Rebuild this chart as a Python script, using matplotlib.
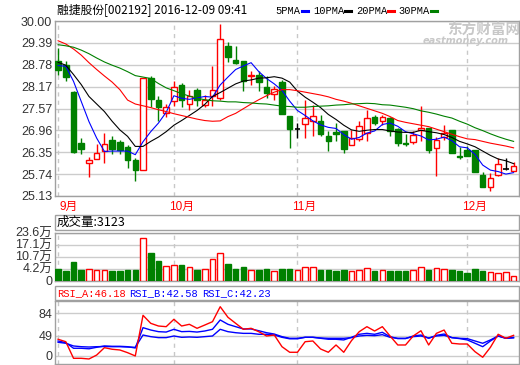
import numpy as np
import matplotlib.pyplot as plt
from matplotlib.patches import Rectangle
from matplotlib.lines import Line2D

W, H = 520, 365

opens = [28.90, 28.78, 28.03, 26.61, 26.05, 26.16, 26.39, 26.70, 26.64, 26.49,
         26.12, 25.84, 28.40, 27.81, 27.44, 27.78, 28.23, 27.70, 28.09, 27.67,
         27.90, 27.87, 29.30, 28.91, 28.88, 28.46, 28.51, 28.15, 27.97, 28.29,
         27.35, 27.00, 27.13, 27.21, 27.23, 26.79, 26.91, 26.93, 26.56, 26.72,
         26.88, 27.33, 27.23, 27.30, 26.99, 26.61, 26.62, 26.97, 27.02, 26.47,
         26.77, 26.97, 26.24, 26.42, 26.42, 25.72, 25.37, 25.72, 25.88, 25.83]
highs = [29.26, 28.88, 28.05, 26.74, 26.21, 26.58, 26.88, 26.81, 26.70, 26.56,
         26.19, 28.40, 28.48, 27.90, 27.70, 28.32, 28.28, 28.07, 28.14, 27.95,
         28.74, 29.92, 29.41, 29.31, 28.88, 28.60, 28.62, 28.46, 28.20, 28.37,
         27.37, 27.16, 27.81, 27.65, 27.39, 26.93, 27.16, 26.93, 26.97, 27.21,
         27.53, 27.38, 27.39, 27.33, 27.02, 26.86, 26.95, 27.63, 27.02, 26.77,
         27.11, 26.97, 26.49, 26.53, 26.42, 25.81, 25.77, 26.19, 26.19, 26.08]
lows = [28.51, 28.32, 26.33, 26.30, 25.66, 26.16, 26.06, 26.31, 26.30, 25.91,
        25.55, 25.84, 27.61, 27.23, 27.33, 27.64, 27.62, 27.53, 27.64, 27.62,
        27.64, 27.81, 28.86, 28.79, 28.04, 28.21, 28.06, 27.86, 27.81, 27.42,
        26.47, 26.74, 26.74, 26.79, 26.79, 26.39, 26.67, 26.33, 26.56, 26.67,
        26.65, 27.10, 27.11, 26.79, 26.53, 26.53, 26.57, 26.65, 26.34, 25.69,
        26.70, 26.34, 26.16, 26.23, 25.81, 25.37, 25.28, 25.69, 25.86, 25.83]
closes = [28.65, 28.44, 26.35, 26.43, 26.14, 26.33, 26.58, 26.44, 26.42, 26.12,
          25.84, 28.40, 27.83, 27.62, 27.61, 28.16, 27.81, 27.92, 27.79, 27.81,
          28.09, 29.50, 29.00, 28.83, 28.34, 28.51, 28.29, 28.01, 28.12, 27.42,
          27.00, 27.00, 27.30, 27.37, 26.86, 26.67, 26.86, 26.44, 26.74, 27.07,
          27.30, 27.16, 27.32, 26.95, 26.60, 26.58, 26.84, 27.02, 26.40, 26.70,
          26.87, 26.34, 26.21, 26.23, 25.81, 25.37, 25.63, 26.03, 25.88, 25.97]

ma5 = [28.76, 28.74, 28.32, 27.76, 27.20, 26.74, 26.37, 26.38, 26.38, 26.38,
       26.28, 26.64, 26.92, 27.16, 27.46, 27.92, 27.85, 27.82, 27.86, 27.90,
       27.88, 28.22, 28.44, 28.65, 28.75, 28.84, 28.59, 28.40, 28.25, 28.07,
       27.77, 27.51, 27.37, 27.22, 27.11, 27.04, 27.01, 26.84, 26.71, 26.76,
       26.88, 26.94, 27.12, 27.16, 27.07, 26.92, 26.86, 26.80, 26.69, 26.71,
       26.77, 26.67, 26.50, 26.47, 26.29, 25.99, 25.85, 25.81, 25.74, 25.78]
ma10 = [28.85, 28.77, 28.51, 28.23, 27.90, 27.69, 27.48, 27.21, 26.97, 26.79,
        26.51, 26.51, 26.65, 26.77, 26.92, 27.10, 27.23, 27.37, 27.51, 27.68,
        27.90, 28.01, 28.13, 28.25, 28.33, 28.36, 28.41, 28.42, 28.45, 28.41,
        28.30, 28.05, 27.88, 27.74, 27.59, 27.40, 27.26, 27.10, 26.97, 26.93,
        26.96, 26.98, 26.98, 26.94, 26.91, 26.90, 26.90, 26.96, 26.92, 26.89,
        26.84, 26.76, 26.65, 26.58, 26.50, 26.38, 26.26, 26.16, 26.11, 26.03]
ma20 = [29.45, 29.36, 29.22, 29.05, 28.84, 28.65, 28.47, 28.30, 28.09, 27.80,
        27.69, 27.64, 27.59, 27.53, 27.48, 27.42, 27.37, 27.32, 27.27, 27.23,
        27.21, 27.22, 27.34, 27.43, 27.56, 27.69, 27.81, 27.92, 28.02, 28.09,
        28.09, 28.06, 28.02, 27.98, 27.94, 27.89, 27.82, 27.77, 27.71, 27.64,
        27.57, 27.50, 27.43, 27.34, 27.23, 27.18, 27.14, 27.10, 27.06, 26.99,
        26.92, 26.85, 26.78, 26.72, 26.70, 26.65, 26.60, 26.56, 26.52, 26.47]
ma30 = [29.34, 29.31, 29.27, 29.19, 29.09, 28.97, 28.86, 28.77, 28.69, 28.59,
        28.48, 28.44, 28.40, 28.26, 28.14, 28.06, 27.98, 27.91, 27.85, 27.81,
        27.78, 27.77, 27.75, 27.75, 27.73, 27.72, 27.70, 27.69, 27.66, 27.63,
        27.62, 27.60, 27.60, 27.62, 27.63, 27.64, 27.66, 27.67, 27.69, 27.70,
        27.71, 27.70, 27.67, 27.66, 27.63, 27.60, 27.56, 27.50, 27.46, 27.41,
        27.35, 27.30, 27.21, 27.13, 27.03, 26.95, 26.86, 26.78, 26.71, 26.65]

# volume, in units of the panel grid (one grid step = 6.45)
volume = [6.45, 5.0, 9.7, 5.5, 6.45, 5.4, 5.75, 5.0, 5.0, 5.5,
          5.9, 22.95, 15.05, 10.75, 8.06, 8.6, 8.2, 7.0, 5.5, 6.3,
          11.3, 15.05, 8.8, 6.45, 7.0, 5.75, 5.5, 6.45, 4.85, 6.45,
          6.45, 5.75, 7.0, 7.5, 5.9, 5.4, 4.85, 5.4, 5.2, 5.75,
          6.8, 4.85, 5.4, 4.85, 4.85, 4.85, 5.4, 7.35, 5.9, 6.8,
          6.1, 5.9, 4.85, 4.3, 6.3, 4.85, 4.5, 4.15, 4.7, 2.5]

rsi_a = [44.0, 40.3, 15.0, 15.0, 14.0, 20.0, 31.2, 28.8, 27.7, 23.6,
         18.6, 80.5, 68.3, 64.2, 63.2, 74.4, 64.2, 66.8, 60.7, 65.7,
         70.8, 93.6, 77.5, 68.3, 59.2, 60.7, 55.5, 49.0, 50.5, 32.7,
         24.2, 24.2, 40.3, 41.4, 29.2, 24.2, 35.3, 24.2, 41.9, 55.5,
         63.2, 56.6, 63.2, 49.0, 35.3, 35.3, 49.0, 57.0, 35.3, 53.0,
         58.1, 37.9, 36.8, 36.8, 25.1, 16.6, 31.8, 51.6, 45.5, 50.0]
rsi_b = [41.4, 38.8, 30.3, 30.3, 29.5, 31.8, 33.8, 33.3, 33.3, 32.7,
         30.7, 61.7, 58.1, 55.6, 55.0, 59.2, 55.6, 56.0, 55.0, 56.6,
         59.2, 73.4, 66.8, 63.2, 59.7, 59.7, 57.0, 54.0, 52.0, 48.0,
         45.5, 45.5, 47.0, 47.0, 45.5, 44.0, 44.0, 43.0, 47.0, 51.6,
         53.0, 51.6, 54.6, 48.0, 45.0, 45.0, 49.0, 50.5, 45.5, 50.0,
         52.0, 46.5, 45.0, 43.0, 37.9, 32.7, 41.4, 49.0, 45.5, 47.0]
rsi_c = [39.4, 37.9, 33.8, 32.7, 32.2, 32.7, 33.0, 32.7, 32.7, 32.2,
         31.8, 50.5, 48.0, 46.5, 46.5, 49.0, 47.0, 47.5, 47.0, 48.0,
         49.0, 59.2, 55.6, 54.0, 53.0, 53.0, 51.6, 51.6, 50.5, 47.0,
         44.7, 44.7, 47.0, 47.0, 46.0, 45.5, 45.5, 45.5, 46.5, 49.0,
         50.0, 49.5, 51.0, 47.0, 45.5, 45.5, 48.0, 49.0, 46.0, 49.0,
         50.0, 46.5, 45.5, 45.0, 41.4, 37.9, 43.0, 49.0, 45.5, 46.0]

month_idx = [0, 15, 31, 53]
month_lbl = ['9月', '10月', '11月', '12月']
price_lbl = ['25.13', '25.74', '26.35', '26.96', '27.57', '28.17', '28.78', '29.39', '30.00']
vol_lbl = ['0', '4.2万', '10.7万', '17.1万', '23.6万']
rsi_lbl = ['0', '49', '84']
rsi_pos = [18.6, 49, 84]

RED = '#ff0000'
GRN = '#008000'
BLUE = '#0000ff'
GRID = '#cccccc'
FRAME = '#a0a0a0'
TXT = '#333333'
CJK = ['Noto Sans CJK SC', 'DejaVu Sans']
NUM = ['Liberation Sans', 'Noto Sans CJK SC']
MONO = ['Liberation Mono', 'Noto Sans CJK SC']


def px_box(l, t, r, b):
    return [l / W, 1 - b / H, (r - l) / W, (b - t) / H]


def style_panel(ax, n):
    ax.set_xlim(-0.4, n - 0.3)
    ax.set_xticks([])
    ax.tick_params(axis='y', length=0, pad=2, labelsize=9, labelcolor=TXT)
    for lab in ax.get_yticklabels():
        lab.set_fontfamily(NUM)
    for s in ax.spines.values():
        s.set_color(FRAME)
        s.set_linewidth(1)
    for m in month_idx:
        ax.axvline(m, color='#c8c8c8', lw=1, ls=(0, (3, 3)), zorder=0)


def main():
    n = len(closes)
    idx = np.arange(n)
    o = np.array(opens)
    c = np.array(closes)
    hi = np.array(highs)
    lo = np.array(lows)

    fig = plt.figure(figsize=(W / 100, H / 100), dpi=100)

    # price panel
    ax = fig.add_axes(px_box(55, 21, 519, 196))
    ax.set_ylim(25.13, 30.00)
    ticks = np.linspace(25.13, 30.00, len(price_lbl))
    ax.set_yticks(ticks, price_lbl)
    for t in ticks:
        ax.axhline(t, color=GRID, lw=1, zorder=0)
    style_panel(ax, n)

    bw = 0.72
    for i in idx:
        top, bot = max(o[i], c[i]), min(o[i], c[i])
        if c[i] > o[i]:
            col = RED
        elif c[i] < o[i]:
            col = GRN
        else:
            col = 'black'
        ax.vlines(i, top, hi[i], color=col, lw=1, zorder=3)
        ax.vlines(i, lo[i], bot, color=col, lw=1, zorder=3)
        if col == RED:
            ax.add_patch(Rectangle((i - bw / 2, bot), bw, top - bot, fc='white', ec=RED, lw=1, zorder=4))
        elif col == GRN:
            ax.add_patch(Rectangle((i - bw / 2, bot), bw, top - bot, fc=GRN, ec=GRN, lw=1, zorder=4))
        else:
            ax.hlines(c[i], i - bw / 2, i + bw / 2, color=col, lw=1.2, zorder=4)

    ax.plot(idx, ma5, color=BLUE, lw=0.8, zorder=5)
    ax.plot(idx, ma10, color='black', lw=0.8, zorder=5)
    ax.plot(idx, ma20, color=RED, lw=0.8, zorder=5)
    ax.plot(idx, ma30, color=GRN, lw=0.8, zorder=5)

    for m, lab in zip(month_idx, month_lbl):
        xm = max(m - 0.65, 0.15)
        ax.text(xm, -0.063, lab, transform=ax.get_xaxis_transform(), color=RED,
                fontsize=8.5, family=NUM, va='center', ha='left')

    # volume panel
    fig.add_artist(Rectangle((55 / W, 1 - 230 / H), 464 / W, 15 / H, transform=fig.transFigure,
                             fill=False, ec=FRAME, lw=1))
    fig.text(57 / W, 1 - 222.5 / H, '成交量:3123', fontsize=9, family=CJK, va='center', color='black')

    axv = fig.add_axes(px_box(55, 232.5, 519, 280.5))
    axv.set_ylim(0, 25.8)
    vt = np.linspace(0, 25.8, len(vol_lbl))
    axv.set_yticks(vt, vol_lbl)
    for t in vt:
        axv.axhline(t, color=GRID, lw=1, zorder=0)
    style_panel(axv, n)
    for i in idx:
        if c[i] < o[i]:
            axv.bar(i, volume[i], width=bw, color=GRN, ec=GRN, lw=1, zorder=3)
        else:
            axv.bar(i, volume[i], width=bw, color='white', ec=RED, lw=1, zorder=3)

    # rsi panel
    fig.add_artist(Rectangle((55 / W, 1 - 300 / H), 464 / W, 14 / H, transform=fig.transFigure,
                             fill=False, ec=FRAME, lw=1))
    for x0, s, col in [(57, 'RSI_A:46.18', RED), (129, 'RSI_B:42.58', BLUE), (202, 'RSI_C:42.23', BLUE)]:
        fig.text(x0 / W, 1 - 293 / H, s, fontsize=7.5, family=MONO, va='center', color=col)

    axr = fig.add_axes(px_box(55, 301, 519, 363.5))
    axr.set_ylim(7.1, 102.3)
    axr.set_yticks(rsi_pos, rsi_lbl)
    for t in rsi_pos:
        axr.axhline(t, color=GRID, lw=1, zorder=0)
    style_panel(axr, n)
    axr.plot(idx, rsi_c, color=BLUE, lw=1, zorder=3)
    axr.plot(idx, rsi_b, color=BLUE, lw=1, zorder=3)
    axr.plot(idx, rsi_a, color=RED, lw=1, zorder=4)

    # header
    fig.text(57 / W, 1 - 10 / H, '融捷股份[002192] 2016-12-09 09:41', fontsize=8.5,
             family=CJK, va='center', color='black')
    legend = [(275, '5PMA', 302, BLUE), (313, '10PMA', 345, 'black'),
              (356, '20PMA', 388, RED), (398, '30PMA', 431, GRN)]
    for x0, s, xd, col in legend:
        fig.text(x0 / W, 1 - 10.5 / H, s, fontsize=7.5, family=MONO, va='center', color='black')
        fig.add_artist(Line2D([xd / W, (xd + 6) / W], [1 - 11 / H, 1 - 11 / H],
                              transform=fig.transFigure, color=col, lw=2.2))

    # watermark
    fig.text(447 / W, 1 - 30 / H, '东方财富网', fontsize=10.5, family=CJK, weight='bold',
             color='#c8c8c8', va='center')
    fig.text(423 / W, 1 - 41.5 / H, 'eastmoney.com', fontsize=7, family=['DejaVu Sans'],
             weight='bold', style='italic', color='#c8c8c8', va='center')

    fig.savefig('out.png', dpi=100)


if __name__ == '__main__':
    main()
